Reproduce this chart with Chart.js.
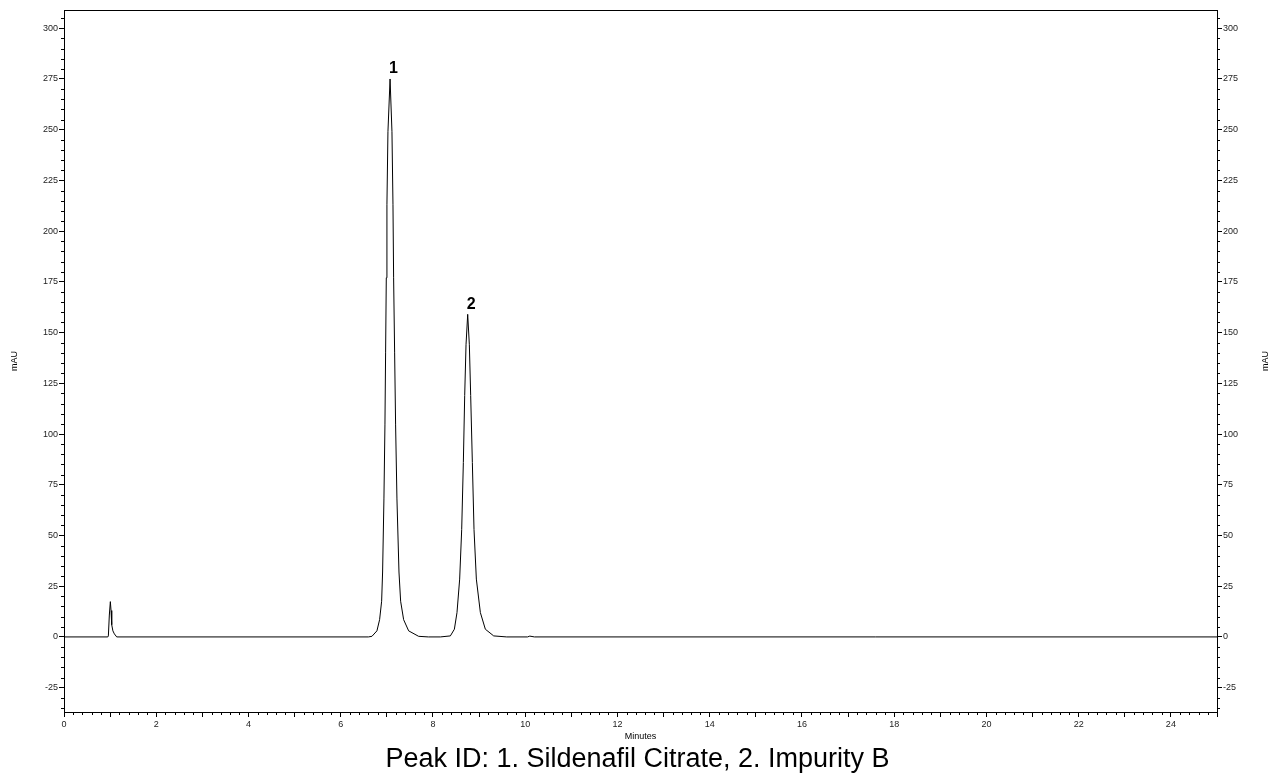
<!DOCTYPE html>
<html>
<head>
<meta charset="utf-8">
<script src="https://cdn.jsdelivr.net/npm/chart.js@4"></script>
<style>
  html, body { margin: 0; padding: 0; background: #fff; }
  canvas { display: block; }
</style>
</head>
<body>
<canvas id="c" width="1268" height="773"></canvas>
<script>
// ---- data ----
const times = [
  0, 0.95, 0.962, 0.983, 1.005, 1.020, 1.035, 1.06, 1.092, 1.143,
  6.60, 6.677, 6.785, 6.843, 6.887, 6.908, 6.937, 6.959, 6.973, 6.988, 7.002, 7.024,
  7.07,
  7.111, 7.133, 7.147, 7.169, 7.190, 7.219, 7.263, 7.299, 7.364, 7.473, 7.689, 7.9,
  8.16, 8.377, 8.464, 8.521, 8.579, 8.623, 8.659, 8.688, 8.717,
  8.753,
  8.789, 8.818, 8.854, 8.890, 8.941, 9.028, 9.136, 9.317, 9.6,
  10.05, 10.1, 10.2, 25
];
const signal = [
  0, 0, 0.5, 10.8, 17.4, 13, 6, 3, 1.5, 0,
  0, 0.3, 3, 8.5, 17.6, 32, 68, 104.5, 140, 177, 213, 249,
  275,
  249, 213, 177, 140, 104.5, 68, 32, 17.6, 8.5, 3, 0.3, 0,
  0, 0.5, 3.8, 12, 28.5, 53, 86, 119, 144,
  159,
  144, 119, 86, 53, 28.5, 12, 3.8, 0.5, 0,
  0, 0.4, 0, 0
];
const peakLabels = ['1', '2'];
const peakTimes = [7.07, 8.753];
const peakHeights = [275, 159];

const xTicks = [0,1,2,3,4,5,6,7,8,9,10,11,12,13,14,15,16,17,18,19,20,21,22,23,24,25];
const xLabelled = [0,2,4,6,8,10,12,14,16,18,20,22,24];
const yTicks = [-25,0,25,50,75,100,125,150,175,200,225,250,275,300];
const xMinorStep = 0.2;
const yMinorStep = 5;

const xTitle = 'Minutes';
const yTitle = 'mAU';
const caption = 'Peak ID: 1. Sildenafil Citrate, 2. Impurity B';

const points = times.map((t, i) => ({ x: t, y: signal[i] }));

const FONT = 'Arial, "Liberation Sans", sans-serif';

const decor = {
  id: 'decor',
  afterDraw(chart) {
    const ctx = chart.ctx;
    const a = chart.chartArea;
    const xs = chart.scales.x, ys = chart.scales.y;
    ctx.save();
    // frame
    ctx.strokeStyle = '#000';
    ctx.lineWidth = 1;
    ctx.strokeRect(Math.round(a.left) + 0.5, Math.round(a.top) + 0.5,
                   Math.round(a.right - a.left), Math.round(a.bottom - a.top));
    // minor ticks
    ctx.beginPath();
    for (let v = xs.min; v <= xs.max + 1e-9; v += xMinorStep) {
      const r = Math.round(v * 1000) / 1000;
      if (Math.abs(r - Math.round(r)) < 1e-6) continue;
      const px = Math.round(xs.getPixelForValue(r)) + 0.5;
      ctx.moveTo(px, a.bottom);
      ctx.lineTo(px, a.bottom + 3);
    }
    for (let v = Math.ceil(ys.min / yMinorStep) * yMinorStep; v <= ys.max; v += yMinorStep) {
      if (v % 25 === 0) continue;
      const py = Math.round(ys.getPixelForValue(v)) + 0.5;
      ctx.moveTo(a.left - 3, py);
      ctx.lineTo(a.left, py);
      ctx.moveTo(a.right, py);
      ctx.lineTo(a.right + 3, py);
    }
    ctx.stroke();
    // peak labels
    ctx.fillStyle = '#000';
    ctx.font = 'bold 16px ' + FONT;
    ctx.textAlign = 'center';
    ctx.textBaseline = 'middle';
    peakLabels.forEach((lab, i) => {
      const px = xs.getPixelForValue(peakTimes[i]);
      const py = ys.getPixelForValue(peakHeights[i]);
      ctx.fillText(lab, px + 3.5, py - 10);
    });
    // axis titles
    ctx.font = '9px ' + FONT;
    ctx.fillText(xTitle, (a.left + a.right) / 2, 737);
    ctx.save();
    ctx.translate(15, (a.top + a.bottom) / 2);
    ctx.rotate(-Math.PI / 2);
    ctx.fillText(yTitle, 0, 0);
    ctx.restore();
    ctx.save();
    ctx.translate(1266, (a.top + a.bottom) / 2);
    ctx.rotate(-Math.PI / 2);
    ctx.fillText(yTitle, 0, 0);
    ctx.restore();
    // caption
    ctx.font = '27px ' + FONT;
    ctx.textBaseline = 'alphabetic';
    ctx.fillText(caption, (a.left + a.right) / 2 - 3, 767);
    ctx.restore();
  }
};

const yScaleBase = (pos, w) => ({
  type: 'linear',
  position: pos,
  min: -37,
  max: 309,
  afterBuildTicks: s => { s.ticks = yTicks.map(v => ({ value: v })); },
  afterFit: s => { s.width = w; },
  grid: { drawOnChartArea: false, drawTicks: true, tickLength: 5, color: '#000', lineWidth: 1 },
  border: { display: true, color: '#000', width: 1 },
  ticks: { color: '#222', font: { family: FONT, size: 9 }, padding: 1, autoSkip: false,
           callback: v => String(v) }
});

new Chart(document.getElementById('c'), {
  type: 'line',
  data: {
    datasets: [{
      data: points,
      borderColor: '#000',
      borderWidth: 1,
      pointRadius: 0,
      tension: 0,
      fill: false
    }]
  },
  options: {
    responsive: false,
    animation: false,
    devicePixelRatio: 1,
    layout: { padding: { top: 10, left: 0, right: 0, bottom: 0 } },
    plugins: { legend: { display: false }, tooltip: { enabled: false } },
    scales: {
      x: {
        type: 'linear',
        min: 0,
        max: 25,
        afterBuildTicks: s => { s.ticks = xTicks.map(v => ({ value: v })); },
        afterFit: s => { s.height = 61; },
        grid: { drawOnChartArea: false, drawTicks: true, tickLength: 5, color: '#000', lineWidth: 1 },
        border: { display: true, color: '#000', width: 1 },
        ticks: { color: '#222', font: { family: FONT, size: 9 }, padding: 2, autoSkip: false, maxRotation: 0,
                 callback: v => xLabelled.includes(v) ? String(v) : '' }
      },
      y: yScaleBase('left', 64),
      y2: yScaleBase('right', 51)
    }
  },
  plugins: [decor]
});
</script>
</body>
</html>
